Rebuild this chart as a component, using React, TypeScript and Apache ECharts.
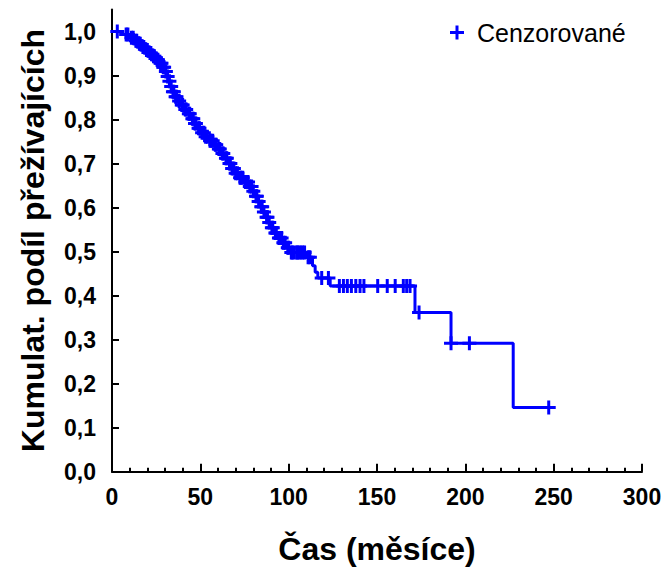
import React, { useEffect, useRef } from "react";
import * as echarts from "echarts";

// Kaplan–Meier steps: time (months) and survival after the event
const eventTimes = [
  0, 6, 10, 13, 15, 17, 19, 21, 23, 25, 27, 28.5, 30, 31, 32, 33, 34, 35.5, 37, 39,
  41, 43, 45, 46.5, 48, 50, 52.5, 55, 58, 60, 62, 64, 66, 67.5, 69.5, 72, 75, 77.5,
  79.5, 81, 82.5, 84, 85.5, 87, 88.5, 90, 92, 94, 96.5, 99, 101, 110, 113.5, 115,
  116.5, 123.5, 171.5, 191.9, 227.1, 247.2,
];
const survival = [
  1.0, 0.993, 0.986, 0.979, 0.972, 0.965, 0.958, 0.951, 0.944, 0.936, 0.928, 0.919,
  0.909, 0.898, 0.887, 0.875, 0.863, 0.852, 0.842, 0.833, 0.823, 0.813, 0.802,
  0.791, 0.78, 0.77, 0.761, 0.752, 0.743, 0.733, 0.723, 0.712, 0.7, 0.689, 0.678,
  0.668, 0.658, 0.648, 0.637, 0.626, 0.614, 0.602, 0.59, 0.578, 0.566, 0.554,
  0.542, 0.531, 0.52, 0.509, 0.498, 0.487, 0.468, 0.453, 0.44, 0.422, 0.3615,
  0.2916, 0.1458, 0.1458,
];

// Censored observation times (months)
const censoredTimes = [
  3, 8, 9, 11, 12, 13.5, 14, 15.5, 16, 17.5, 18, 19.5, 20, 21.5, 22, 23.5, 24, 25.5,
  26, 27.5, 28, 29, 29.5, 30.5, 31.5, 32.5, 33.5, 34.5, 35, 36, 36.5, 38, 39.5, 40,
  41.5, 42, 43.5, 44, 45.5, 46, 47, 47.5, 49, 49.5, 51, 52, 53, 54, 55.5, 56, 57,
  58.5, 59, 60.5, 61, 62.5, 63, 64.5, 65, 66.5, 67, 68, 69, 70, 71, 72.5, 73, 74,
  75.5, 76, 77, 78, 79, 80, 81.5, 82, 83, 84.5, 85, 86, 87.5, 88, 89, 90.5, 91, 92.5,
  93, 94.5, 95, 96, 97, 98, 99.5, 100, 101.5, 102, 103, 104.5, 105, 106, 107, 108,
  109, 111, 112, 118.7, 122.5, 128.7, 131, 133.2, 135.5, 138, 140.4, 142.6, 150.4,
  155.8, 160.3, 164.9, 166.8, 168.7, 173.8, 191.9, 202.3, 247.2,
];

const xTicks = [0, 50, 100, 150, 200, 250, 300];
const yTicks = [0, 0.1, 0.2, 0.3, 0.4, 0.5, 0.6, 0.7, 0.8, 0.9, 1.0];

const FONT = '"Liberation Sans", Arial, Helvetica, sans-serif';
const BLUE = "#0000ff";
const PLUS = "path://M5.5,0H8.5V5.5H14V8.5H8.5V14H5.5V8.5H0V5.5H5.5Z";

function survivalAt(t: number): number {
  let s = survival[0];
  for (let i = 0; i < eventTimes.length; i++) {
    if (eventTimes[i] <= t) s = survival[i];
    else break;
  }
  return s;
}

export default function App() {
  const ref = useRef<HTMLDivElement>(null);

  useEffect(() => {
    if (!ref.current) return;
    const chart = echarts.init(ref.current, undefined, { renderer: "svg" });
    const curve = eventTimes.map((t, i) => [t, survival[i]]);
    const cens = censoredTimes.map((t) => [t, survivalAt(t)]);
    chart.setOption({
      animation: false,
      backgroundColor: "#ffffff",
      grid: { left: 112, right: 25, top: 9.5, bottom: 98.3, containLabel: false },
      legend: {
        data: ["Cenzorované"],
        left: 445,
        top: 15,
        itemWidth: 14,
        itemHeight: 14,
        textStyle: {
          fontFamily: FONT,
          fontSize: 25,
          color: "#000",
          padding: [0, 0, 0, 8],
        },
      },
      xAxis: {
        type: "value",
        min: 0,
        max: 300,
        interval: 50,
        name: "Čas (měsíce)",
        nameLocation: "middle",
        nameGap: 61,
        nameTextStyle: { fontFamily: FONT, fontSize: 32, fontWeight: "bold", color: "#000" },
        axisLine: { show: true, onZero: false, lineStyle: { color: "#000", width: 2 } },
        axisTick: {
          show: true,
          inside: true,
          length: 8,
          lineStyle: { color: "#000", width: 2 },
          customValues: xTicks,
        },
        minorTick: { show: true, splitNumber: 5, length: 4, lineStyle: { color: "#000", width: 2 } },
        axisLabel: {
          fontFamily: FONT,
          fontSize: 23,
          fontWeight: "bold",
          color: "#000",
          margin: 14,
          customValues: xTicks,
        },
        splitLine: { show: false },
        minorSplitLine: { show: false },
      },
      yAxis: {
        type: "value",
        min: 0,
        max: 1.05,
        interval: 0.1,
        name: "Kumulat. podíl přežívajících",
        nameLocation: "middle",
        nameGap: 63,
        nameTextStyle: { fontFamily: FONT, fontSize: 32, fontWeight: "bold", color: "#000" },
        axisLine: { show: true, onZero: false, lineStyle: { color: "#000", width: 2 } },
        axisTick: {
          show: true,
          inside: true,
          length: 7,
          lineStyle: { color: "#000", width: 2 },
          customValues: yTicks,
        },
        axisLabel: {
          fontFamily: FONT,
          fontSize: 23,
          fontWeight: "bold",
          color: "#000",
          margin: 16,
          customValues: yTicks,
          formatter: (v: number) => v.toFixed(1).replace(".", ","),
        },
        splitLine: { show: false },
      },
      series: [
        {
          name: "Přežití",
          type: "line",
          step: "end",
          data: curve,
          showSymbol: false,
          symbol: "none",
          lineStyle: { color: BLUE, width: 3 },
          itemStyle: { color: BLUE },
          z: 2,
        },
        {
          name: "Cenzorované",
          type: "scatter",
          data: cens,
          symbol: PLUS,
          symbolSize: 14,
          itemStyle: { color: BLUE, opacity: 1 },
          z: 3,
        },
      ],
    });
    return () => chart.dispose();
  }, []);

  return (
    <div
      ref={ref}
      style={{ position: "absolute", left: 0, top: 0, width: 667, height: 570, background: "#fff" }}
    />
  );
}
